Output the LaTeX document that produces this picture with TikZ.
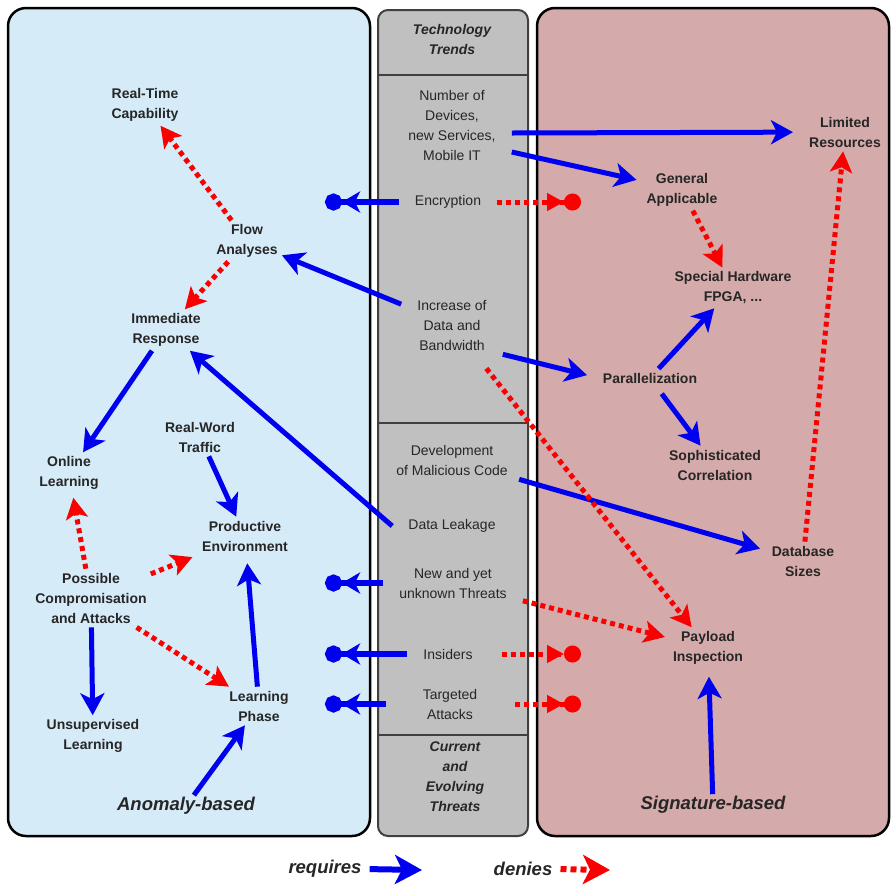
\documentclass[tikz,border=0pt]{standalone}
\usepackage{fontspec}
\setmainfont{Liberation Sans}
\usetikzlibrary{arrows.meta}
\definecolor{anomalybg}{RGB}{214,235,248}
\definecolor{trendbg}{RGB}{192,192,192}
\definecolor{signbg}{RGB}{213,170,170}
\definecolor{reqblue}{RGB}{0,0,240}
\definecolor{denred}{RGB}{250,0,0}
\newcommand{\fs}{\fontsize{14}{20}\selectfont}
\newcommand{\fl}{\fontsize{18.5}{22}\selectfont}

\begin{document}
\begin{tikzpicture}[x=1pt,y=-1pt,
   itm/.style={font=\fs\bfseries,align=center,inner sep=4pt,text=black!85},
   trd/.style={font=\fs,align=center,inner xsep=16pt,inner ysep=4pt,text=black!85},
   hdr/.style={font=\fs\bfseries\itshape,align=center,text=black!85},
   ttl/.style={font=\fl\bfseries\itshape,inner sep=2pt,text=black!85},
   req/.style={draw=reqblue,line width=5pt,-{Stealth[length=22pt,width=24pt,inset=6pt]}},
   den/.style={draw=denred,line width=5pt,dash pattern=on 5pt off 4pt,-{Stealth[length=21pt,width=22pt,inset=5pt]}},
   reqstop/.style={draw=reqblue,line width=6pt,-{Stealth[length=18pt,width=21pt,inset=5pt,sep=0pt]Circle[length=17pt,sep=0pt]}},
   denstop/.style={draw=denred,line width=5pt,dash pattern=on 5pt off 4pt,-{Triangle[length=17pt,width=17pt,sep=0pt]Circle[length=17pt,sep=0pt]}}]
   \path[use as bounding box] (0,0) rectangle (892,887);
   % the three columns
   \draw[fill=anomalybg,line width=2.5pt,rounded corners=18pt] (  8, 8) rectangle (370,836);
   \draw[fill=trendbg,draw=black!75,line width=2pt,rounded corners=10pt] (378,10) rectangle (528,836);
   \draw[fill=signbg,line width=2.5pt,rounded corners=18pt] (537, 8) rectangle (889,836);
   \draw[black!75,line width=2pt] (378, 75) -- (528, 75);
   \draw[black!75,line width=2pt] (378,423) -- (528,423);
   \draw[black!75,line width=2pt] (378,735) -- (528,735);
   % anomaly-based
   \node[itm] (rtc)  at (145,105) {Real-Time\\Capability};
   \node[itm] (flow) at (247,241) {Flow\\Analyses};
   \node[itm] (imm)  at (166,330) {Immediate\\Response};
   \node[itm] (onl)  at ( 69,473) {Online\\Learning};
   \node[itm] (rwt)  at (200,437) {Real-Word\\Traffic};
   \node[itm] (prod) at (245,536) {Productive\\Environment};
   \node[itm] (pca)  at ( 91,598) {Possible\\Compromisation\\and Attacks};
   \node[itm] (unl)  at ( 93,736) {Unsupervised\\Learning};
   \node[itm] (lp)   at (259,706) {Learning\\Phase};
   \node[ttl] (anom) at (186,806) {Anomaly-based};
   % trends and threats
   \node[hdr] (techtr) at (452, 39) {Technology\\Trends};
   \node[trd] (dev)    at (452,125) {Number of\\Devices,\\new Services,\\Mobile IT};
   \node[trd] (enc)    at (448,202) {Encryption};
   \node[trd] (inc)    at (452,325) {Increase of\\Data and\\Bandwidth};
   \node[trd] (mal)    at (452,460) {Development\\of Malicious Code};
   \node[trd] (leak)   at (452,526) {Data Leakage};
   \node[trd] (new)    at (453,583) {New and yet\\unknown Threats};
   \node[trd] (ins)    at (448,654) {Insiders};
   \node[trd] (tgt)    at (450,704) {Targeted\\Attacks};
   \node[hdr] (cur)    at (455,777) {Current\\and\\Evolving\\Threats};
   % signature-based
   \node[itm] (lim)  at (845,132) {Limited\\Resources};
   \node[itm] (gen)  at (682,190) {General\\Applicable};
   \node[itm] (shw)  at (733,288) {Special Hardware\\FPGA, ...};
   \node[itm] (par)  at (650,378) {Parallelization};
   \node[itm] (soph) at (715,465) {Sophisticated\\Correlation};
   \node[itm] (db)   at (803,561) {Database\\Sizes};
   \node[itm] (pay)  at (708,648) {Payload\\Inspection};
   \node[ttl] (sig)  at (713,805) {Signature-based};
   % dots of the blocked arrows
   \coordinate (encL) at (325,202);
   \coordinate (encR) at (581,202);
   \coordinate (newL) at (325,583);
   \coordinate (insL) at (325,654);
   \coordinate (insR) at (581,654);
   \coordinate (tgtL) at (325,704);
   \coordinate (tgtR) at (581,704);
   % requires
   \draw[req,shorten >=12pt] ([yshift=-8pt]dev.east) -- (lim);
   \draw[req,shorten >=6pt] ([yshift=-27pt]dev.east) -- (gen);
   \draw[req] (inc) -- (flow);
   \draw[req,shorten >=12pt] (inc.south east) -- (par.west);
   \draw[req] (par) -- (shw);
   \draw[req,shorten <=8pt] (par) -- (soph);
   \draw[req] (imm) -- (onl);
   \draw[req] (leak.west) -- (imm);
   \draw[req] (rwt) -- (prod);
   \draw[req,shorten >=8pt] (lp) -- (prod);
   \draw[req] (pca) -- (unl);
   \draw[req] (anom) -- (lp);
   \draw[req,shorten >=8pt] (mal) -- (db);
   \draw[req,shorten >=8pt] (sig) -- (pay);
   \draw[reqstop] (enc.west) -- (encL);
   \draw[reqstop] (new.west) -- (newL);
   \draw[reqstop] (ins.west) -- (insL);
   \draw[reqstop] ([xshift=-21pt]tgt.west) -- (tgtL);
   % denies
   \draw[den] (flow) -- (rtc);
   \draw[den] (flow) -- (imm);
   \draw[den] (gen) -- (shw);
   \draw[den] (db) -- (lim);
   \draw[den,shorten <=18pt] (inc) -- (pay);
   \draw[den,shorten >=4pt] (new) -- (pay);
   \draw[den,shorten >=4pt] (pca) -- (onl);
   \draw[den,shorten >=6pt] (pca) -- (prod);
   \draw[den] (pca) -- (lp);
   \draw[denstop] (enc.east) -- (encR);
   \draw[denstop] ([xshift=13pt]ins.east) -- (insR);
   \draw[denstop] ([xshift=22pt]tgt.east) -- (tgtR);
   % legend
   \node[ttl] (reqtxt) at (325,869) {requires};
   \node[ttl] (dentxt) at (523,869) {denies};
   \coordinate (reqend) at (422,870);
   \coordinate (denend) at (610,870);
   \draw[draw=reqblue,line width=6pt,-{Stealth[length=27pt,width=29pt,inset=7pt]},shorten <=6pt] (reqtxt.east) -- (reqend);
   \draw[draw=denred,line width=6pt,dash pattern=on 6pt off 4pt,-{Stealth[length=27pt,width=29pt,inset=7pt]},shorten <=6pt] (dentxt.east) -- (denend);
\end{tikzpicture}
\end{document}
